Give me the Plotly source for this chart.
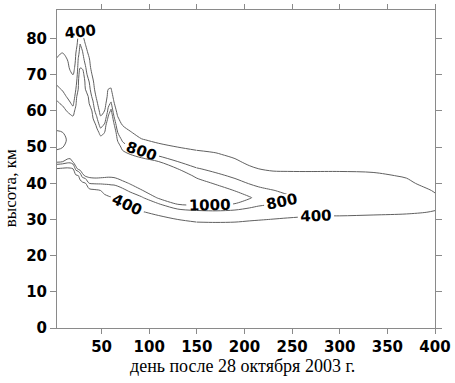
import plotly.graph_objects as go

# ---- data ----
altitude_km = list(range(24, 89, 2))  # grid rows, km
background_altitude_km = [0, 12]      # rows well below the layer (value 0)

days = [3, 9, 14, 17, 20, 23, 25.5, 27.5, 30, 33, 37, 41, 45, 49, 53, 57, 60, 63,
        67, 72, 80, 92, 110, 130, 150, 170, 190, 205, 215, 230, 245, 258, 270,
        300, 335, 370, 400]

# one estimated vertical profile per day (values at altitude_km rows)
profile = {
    3:    [0,0,0,0,0,0,0,0,0,180,380,1060,1260,850,880,880,1300,1300,1250,1050,940,850,760,660,560,450,300,100,0,0,0,0,0],
    9:    [0,0,0,0,0,0,0,0,0,140,340,1010,1210,980,920,980,1300,1300,1100,960,870,780,710,630,560,490,410,230,30,0,0,0,0],
    14:   [0,0,0,0,0,0,0,0,0,120,320,910,1170,1200,1020,1200,1300,1150,980,880,780,710,640,560,490,420,250,50,0,0,0,0,0],
    17:   [0,0,0,0,0,0,0,0,0,140,340,900,1150,1300,1300,1300,1280,1080,930,820,730,640,550,470,350,150,0,0,0,0,0,0,0],
    20:   [0,0,0,0,0,0,0,0,0,200,400,1020,1220,1300,1300,1300,1250,1050,880,760,670,580,490,400,200,0,0,0,0,0,0,0,0],
    23:   [0,0,0,0,0,0,0,0,100,300,910,1170,1300,1300,1300,1300,1300,1300,1100,960,880,800,720,640,560,480,400,200,0,0,0,0,0],
    25.5: [0,0,0,0,0,0,0,0,150,350,1050,1250,1300,1300,1300,1300,1300,1300,1300,1300,1200,1000,960,910,870,820,740,630,510,400,200,0,0],
    27.5: [0,0,0,0,0,0,0,20,220,600,1100,1300,1300,1300,1300,1300,1300,1300,1300,1300,1300,1300,1300,1150,990,930,880,830,710,520,330,130,0],
    30:   [0,0,0,0,0,0,0,100,300,920,1150,1300,1300,1300,1300,1300,1300,1300,1300,1300,1300,1300,1300,1100,970,900,830,710,530,350,150,0,0],
    33:   [0,0,0,0,0,0,0,180,380,1020,1220,1300,1300,1300,1300,1300,1300,1300,1300,1300,1200,1000,940,890,830,730,580,440,250,50,0,0,0],
    37:   [0,0,0,0,0,0,70,270,800,1050,1250,1300,1300,1300,1300,1300,1300,1300,1200,1000,930,870,800,690,570,460,300,100,0,0,0,0,0],
    41:   [0,0,0,0,0,0,120,320,830,1060,1260,1300,1300,1300,1300,1300,1200,1000,920,840,730,600,470,300,100,0,0,0,0,0,0,0,0],
    45:   [0,0,0,0,0,0,150,350,840,1060,1260,1300,1300,1300,1300,1100,940,830,670,490,300,100,0,0,0,0,0,0,0,0,0,0,0],
    49:   [0,0,0,0,0,0,200,400,840,1050,1250,1300,1300,1300,1100,920,730,470,250,50,0,0,0,0,0,0,0,0,0,0,0,0,0],
    53:   [0,0,0,0,0,80,280,530,840,1040,1240,1300,1300,1300,1200,1000,840,630,400,200,0,0,0,0,0,0,0,0,0,0,0,0,0],
    57:   [0,0,0,0,0,140,340,590,840,1030,1230,1300,1300,1300,1300,1300,1250,1050,880,720,560,400,200,0,0,0,0,0,0,0,0,0,0],
    60:   [0,0,0,0,0,180,380,620,850,1030,1230,1300,1300,1300,1300,1300,1300,1250,1050,850,640,430,230,30,0,0,0,0,0,0,0,0,0],
    63:   [0,0,0,0,20,220,420,640,850,1040,1240,1300,1300,1300,1300,1250,1050,850,650,450,250,50,0,0,0,0,0,0,0,0,0,0,0],
    67:   [0,0,0,0,70,270,470,680,880,1070,1270,1300,1300,1150,960,800,620,440,250,50,0,0,0,0,0,0,0,0,0,0,0,0,0],
    72:   [0,0,0,0,140,340,540,740,930,1130,1300,1300,1100,920,760,580,400,200,0,0,0,0,0,0,0,0,0,0,0,0,0,0,0],
    80:   [0,0,0,50,250,450,650,840,1020,1220,1300,1200,1000,800,620,440,250,50,0,0,0,0,0,0,0,0,0,0,0,0,0,0,0],
    92:   [0,0,0,170,370,570,770,980,1180,1300,1300,1130,880,640,430,230,30,0,0,0,0,0,0,0,0,0,0,0,0,0,0,0,0],
    110:  [0,0,80,280,500,750,1030,1230,1300,1300,1200,1000,740,510,300,100,0,0,0,0,0,0,0,0,0,0,0,0,0,0,0,0,0],
    130:  [0,0,200,400,660,980,1190,1300,1300,1200,1000,800,600,400,200,0,0,0,0,0,0,0,0,0,0,0,0,0,0,0,0,0,0],
    150:  [0,60,260,480,730,1020,1220,1300,1120,950,820,660,500,320,120,0,0,0,0,0,0,0,0,0,0,0,0,0,0,0,0,0,0],
    170:  [0,70,270,490,750,1010,1210,1140,970,860,730,580,440,250,50,0,0,0,0,0,0,0,0,0,0,0,0,0,0,0,0,0,0],
    190:  [0,60,260,480,730,960,1170,990,880,760,610,470,300,100,0,0,0,0,0,0,0,0,0,0,0,0,0,0,0,0,0,0,0],
    205:  [0,40,240,440,670,890,1020,900,790,640,480,300,100,0,0,0,0,0,0,0,0,0,0,0,0,0,0,0,0,0,0,0,0],
    215:  [0,20,220,420,620,830,940,870,730,570,400,200,0,0,0,0,0,0,0,0,0,0,0,0,0,0,0,0,0,0,0,0,0],
    230:  [0,0,190,390,580,770,880,810,660,510,350,150,0,0,0,0,0,0,0,0,0,0,0,0,0,0,0,0,0,0,0,0,0],
    245:  [0,0,160,360,550,730,850,740,620,490,350,150,0,0,0,0,0,0,0,0,0,0,0,0,0,0,0,0,0,0,0,0,0],
    258:  [0,0,140,340,520,700,790,730,620,500,340,140,0,0,0,0,0,0,0,0,0,0,0,0,0,0,0,0,0,0,0,0,0],
    270:  [0,0,120,320,480,600,680,640,560,500,340,140,0,0,0,0,0,0,0,0,0,0,0,0,0,0,0,0,0,0,0,0,0],
    300:  [0,0,100,300,500,560,620,600,550,520,330,130,0,0,0,0,0,0,0,0,0,0,0,0,0,0,0,0,0,0,0,0,0],
    335:  [0,0,70,270,480,560,600,590,550,500,300,100,0,0,0,0,0,0,0,0,0,0,0,0,0,0,0,0,0,0,0,0,0],
    370:  [0,0,40,240,450,530,560,540,500,360,160,0,0,0,0,0,0,0,0,0,0,0,0,0,0,0,0,0,0,0,0,0,0],
    400:  [0,0,0,180,380,470,440,380,180,0,0,0,0,0,0,0,0,0,0,0,0,0,0,0,0,0,0,0,0,0,0,0,0],
}

contour_levels = [400, 800, 1000]
# day spans over which each level's isoline is drawn (labels are placed per span)
level_spans = {
    400: [(3, 150), (150, 400)],
    800: [(3, 150), (150, 400)],
    1000: [(3, 400)],
}
x_tick_values = [50, 100, 150, 200, 250, 300, 350, 400]
y_tick_values = [0, 10, 20, 30, 40, 50, 60, 70, 80]
x_title = "день после 28 октября 2003 г."
y_title = "высота, км"

grid_y = background_altitude_km + altitude_km

num_font = dict(family="DejaVu Sans", size=15, color="#000000", weight="bold")

fig = go.Figure()
for lv in contour_levels:
    for d0, d1 in level_spans[lv]:
        sub_days = [d for d in days if d0 <= d <= d1]
        sub_z = [[0 for d in sub_days] for _ in background_altitude_km] + \
                [[profile[d][i] for d in sub_days] for i in range(len(altitude_km))]
        fig.add_trace(go.Contour(
            x=sub_days, y=grid_y, z=sub_z,
            autocontour=False,
            contours=dict(start=lv, end=lv, size=1, coloring="none",
                          showlabels=True, labelformat="d", labelfont=num_font),
            line=dict(color="#606060", width=1, smoothing=0.9),
            showscale=False, hoverinfo="skip",
        ))

axis_common = dict(showline=True, linecolor="#8a8a8a", linewidth=1, mirror="ticks",
                   ticks="outside", tickcolor="#8a8a8a", tickwidth=1,
                   showgrid=False, zeroline=False, tickfont=num_font)

fig.update_xaxes(range=[3.2, 400], tickvals=x_tick_values, ticklen=5, **axis_common)
fig.update_yaxes(range=[0, 87.9], tickvals=y_tick_values, ticklen=6, **axis_common)

fig.update_layout(
    width=455, height=383,
    margin=dict(l=57, r=17, t=4, b=55),
    paper_bgcolor="white", plot_bgcolor="white",
    showlegend=False,
    annotations=[
        dict(text=x_title, xref="paper", yref="paper", x=0.492, y=-0.121,
             xanchor="center", yanchor="middle", showarrow=False,
             font=dict(family="Liberation Serif", size=18, color="#000000")),
        dict(text=y_title, xref="paper", yref="paper", x=-0.1237, y=0.44,
             xanchor="center", yanchor="middle", showarrow=False, textangle=-90,
             font=dict(family="Liberation Serif", size=17, color="#000000")),
    ],
)

fig.write_html("out.html", config={"displayModeBar": False},
               post_script="document.body.style.margin='0';")
